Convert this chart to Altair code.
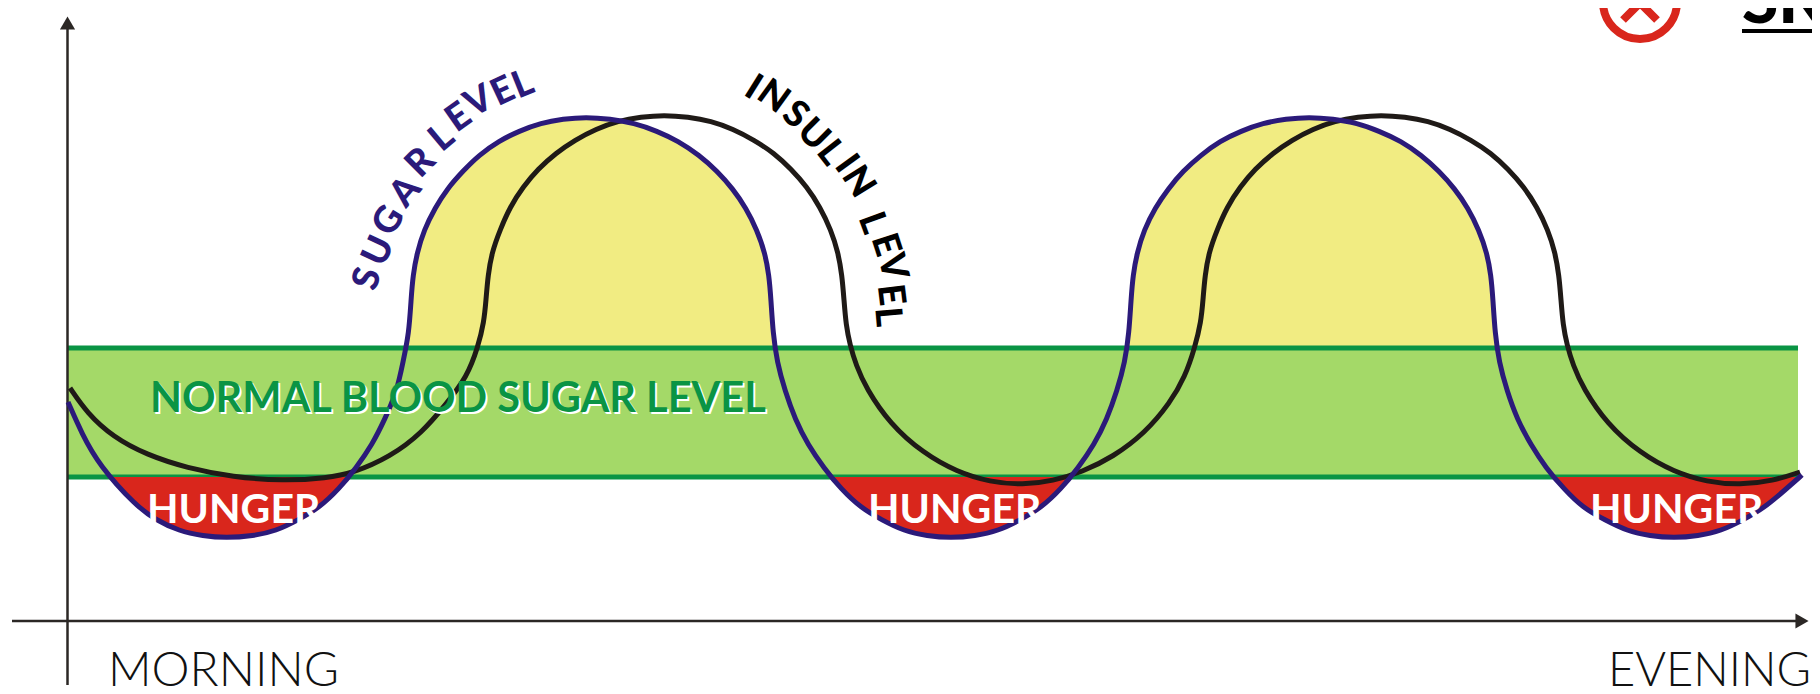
import altair as alt
import pandas as pd

sugar_x = [68,82,99,136,156,179,203,226,253,276,298,319,339,356,372,385,397,403,409,411,413,417,424,435,447,463,479,499,519,541,563,586,610,634,657,678,699,717,733,746,757,765,769,771,773,777,785,795,808,824,841,861,882,904,927,951,975,998,1020,1041,1061,1078,1094,1107,1117,1125,1129,1131,1133,1137,1144,1155,1168,1183,1201,1220,1241,1263,1286,1309,1333,1357,1379,1401,1421,1439,1455,1468,1479,1487,1491,1493,1495,1499,1507,1517,1531,1546,1564,1583,1605,1627,1650,1674,1698,1721,1743,1764,1785,1802]
sugar_y = [402,434,465,506,520,531,536,538,536,531,520,508,489,468,445,419,391,362,333,300,275,253,230,208,189,171,155,141,131,123,119,117,119,123,131,141,155,171,189,208,230,253,275,300,333,362,391,419,445,468,489,508,520,531,536,538,536,531,520,508,489,468,445,419,391,362,333,300,275,253,230,208,189,171,155,141,131,123,119,117,119,123,131,141,155,171,189,208,230,253,275,300,333,362,391,419,445,468,489,508,520,531,536,538,536,531,520,508,490,475]
insulin_x = [70,87,113,147,187,233,283,327,353,390,422,447,467,478,484,486,488,492,500,510,523,538,556,575,596,618,641,664,688,711,733,754,774,791,807,820,831,838,842,844,846,850,856,866,890,923,957,990,1023,1053,1082,1113,1145,1170,1185,1195,1201,1203,1205,1209,1217,1227,1240,1255,1273,1292,1313,1335,1358,1381,1405,1428,1450,1471,1491,1508,1524,1537,1548,1555,1559,1561,1563,1567,1573,1583,1607,1640,1674,1707,1740,1773,1800]
insulin_y = [388,413,437,455,468,477,481,478,473,457,433,403,377,347,322,300,275,252,230,207,187,169,153,140,129,121,117,115,117,121,129,140,153,169,187,207,230,252,275,300,325,345,365,388,424,453,472,482,485,481,472,457,433,403,377,347,322,300,275,252,230,207,187,169,153,140,129,121,117,115,117,121,129,140,153,169,187,207,230,252,275,300,325,345,365,388,424,453,472,482,485,481,472]
yellow1_x = [408,411,413,417,424,435,447,463,479,499,519,541,563,586,610,634,657,678,699,717,733,746,757,765,769,771,773]
yellow1_y = [348,300,275,253,230,208,189,171,155,141,131,123,119,117,119,123,131,141,155,171,189,208,230,253,275,300,348]
yellow2_x = [1128,1131,1133,1137,1144,1155,1168,1183,1201,1220,1241,1263,1286,1309,1333,1357,1379,1401,1421,1439,1455,1468,1479,1487,1491,1493,1496]
yellow2_y = [348,300,275,253,230,208,189,171,155,141,131,123,119,117,119,123,131,141,155,171,189,208,230,253,275,300,348]
red1_x = [108,136,156,179,203,226,253,276,298,319,339,349]
red1_y = [477,506,520,531,536,538,536,531,520,508,489,477]
red2_x = [829,841,861,882,904,927,951,975,998,1020,1041,1061,1073]
red2_y = [477,489,508,520,531,536,538,536,531,520,508,489,477]
red3_x = [1552,1564,1583,1605,1627,1650,1674,1698,1721,1743,1764,1785,1800]
red3_y = [477,489,508,520,531,536,538,536,531,520,508,490,477]

band_left, band_right, band_top, band_bottom = 68, 1798, 348, 477

sugar_letters = list("SUGAR LEVEL")
sugar_lx = [368,379,389,406,421,0,442,459,479,503,523]
sugar_ly = [279,251,221,192,163,0,138,118,102,92,85]
sugar_la = [288,295,302,310,315,0,320,325,332,335,338]
insulin_letters = list("INSULIN LEVEL")
insulin_lx = [753,773,795,813,830,846,858,0,872,885,892,890,887]
insulin_ly = [88,97,115,135,153,164,182,0,223,245,267,295,317]
insulin_la = [32,36,40,45,52,54,58,0,70,72,77,83,85]

X = lambda d="x": alt.X(f"{d}:Q", scale=alt.Scale(domain=[8, 1812], nice=False, zero=False), axis=None)
Y = lambda d="y": alt.Y(f"{d}:Q", scale=alt.Scale(domain=[694, 8], nice=False, zero=False), axis=None)

def df(xs, ys):
    return pd.DataFrame({"x": xs, "y": ys, "i": range(len(xs))})

def line(xs, ys, color, w, interp="basis"):
    return alt.Chart(df(xs, ys)).mark_line(color=color, strokeWidth=w, interpolate=interp).encode(x=X(), y=Y(), order="i:Q")

def area(xs, ys, base, color):
    d = df(xs, ys).assign(b=base)
    return alt.Chart(d).mark_area(color=color, interpolate="basis", opacity=1).encode(x=X(), y=Y(), y2="b:Q")

def text(s, x, y, size, color, weight="bold", align="left", font="Lato"):
    return alt.Chart(pd.DataFrame({"x": [x], "y": [y], "t": [s]})).mark_text(
        fontSize=size, color=color, fontWeight=weight, align=align, baseline="alphabetic", font=font
    ).encode(x=X(), y=Y(), text="t:N")

def letters(ls, xs, ys, angs, color):
    d = pd.DataFrame({"x": xs, "y": ys, "a": angs, "t": ls})
    d = d[d.t != " "]
    return alt.Chart(d).mark_text(fontSize=37, color=color, fontWeight=900, font="Lato", align="center", baseline="middle").encode(
        x=X(), y=Y(), text="t:N", angle=alt.Angle("a:Q", scale=None))

SUGAR = "#2b1a7a"; INS = "#1f1a17"; GREEN = "#0a9444"; FILL = "#a4d968"; YEL = "#f1ec82"; RED = "#d9261c"; AX = "#2b2725"

band = alt.Chart(pd.DataFrame({"x": [band_left], "x2": [band_right], "y": [band_top], "y2": [band_bottom]})).mark_rect(color=FILL).encode(x=X(), x2="x2:Q", y=Y(), y2="y2:Q")
def hrule(x1, x2, y, color, w):
    return alt.Chart(pd.DataFrame({"x": [x1], "x2": [x2], "y": [y]})).mark_rule(color=color, strokeWidth=w).encode(x=X(), x2="x2:Q", y=Y())
def vrule(x, y1, y2, color, w):
    return alt.Chart(pd.DataFrame({"x": [x], "y": [y1], "y2": [y2]})).mark_rule(color=color, strokeWidth=w).encode(x=X(), y=Y(), y2="y2:Q")
def head(x, y, shape):
    return alt.Chart(pd.DataFrame({"x": [x], "y": [y]})).mark_point(shape=shape, filled=True, color=AX, size=230, opacity=1).encode(x=X(), y=Y())

icon_circle = alt.Chart(pd.DataFrame({"x": [1640], "y": [2]})).mark_point(shape="circle", size=5476, stroke=RED, strokeWidth=8, opacity=1).encode(x=X(), y=Y())

chart = alt.layer(
    area(yellow1_x, yellow1_y, band_top, YEL),
    area(yellow2_x, yellow2_y, band_top, YEL),
    band,
    hrule(band_left, band_right, band_top, GREEN, 5),
    hrule(band_left, band_right, band_bottom, GREEN, 5),
    area(red1_x, red1_y, band_bottom, RED),
    area(red2_x, red2_y, band_bottom, RED),
    area(red3_x, red3_y, band_bottom, RED),
    vrule(67.5, 20, 685, AX, 2.5),
    hrule(12, 1800, 621, AX, 2.5),
    head(67.5, 23, "triangle-up"),
    head(1802, 621, "triangle-right"),
    line(insulin_x, insulin_y, INS, 5),
    line(sugar_x, sugar_y, SUGAR, 5),
    text("NORMAL BLOOD SUGAR LEVEL", 152, 414, 41.5, "white"),
    text("NORMAL BLOOD SUGAR LEVEL", 150, 412, 41.5, GREEN),
    text("HUNGER", 147, 523, 41, "white"),
    text("HUNGER", 868, 523, 41, "white"),
    text("HUNGER", 1590, 523, 41, "white"),
    letters(sugar_letters, sugar_lx, sugar_ly, sugar_la, SUGAR),
    letters(insulin_letters, insulin_lx, insulin_ly, insulin_la, "#000000"),
    text("MORNING", 108, 686, 48, "#111111", weight=300),
    text("EVENING", 1811, 686, 47, "#111111", weight=300, align="right"),
    icon_circle,
    line([1623, 1640, 1657], [20, 3, 20], RED, 8, "linear"),
    text("SK", 1742, 23, 66, "#000000", weight=900),
    hrule(1742, 1812, 31, "#000000", 4),
).properties(width=1804, height=686, padding=0, autosize=alt.AutoSizeParams(type="none")).configure_view(stroke=None)

chart.save("out.html", embed_options={"renderer": "svg", "actions": False})
